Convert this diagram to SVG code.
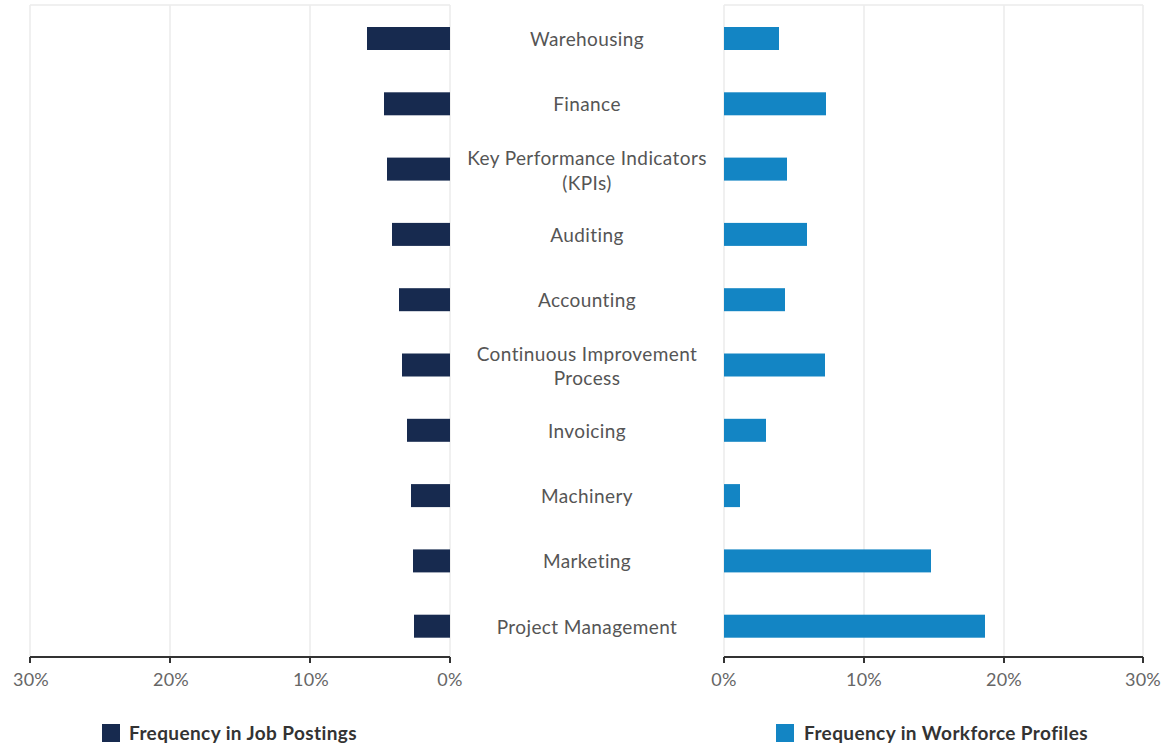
<svg xmlns="http://www.w3.org/2000/svg" width="1165" height="745" viewBox="0 0 1165 745">
<style>
.grid{stroke:#ebebeb;stroke-width:1.5;fill:none}
.axis{stroke:#333;stroke-width:2;fill:none}
.tick{font-family:Lato,"Liberation Sans",sans-serif;font-size:18px;fill:#666;letter-spacing:0.3px}
.lbl{font-family:Lato,"Liberation Sans",sans-serif;font-size:19px;fill:#555;text-anchor:middle;letter-spacing:0.4px}
.leg{font-family:Lato,"Liberation Sans",sans-serif;font-size:19px;font-weight:bold;fill:#333;letter-spacing:0.4px}
.jp{fill:#172a4f}
.wf{fill:#1385c4}
</style>
<rect width="1165" height="745" fill="#fff"/>
<g id="grid">
<path class="grid" d="M30 5H450M724 5H1143"/>
<path class="grid" d="M30 5V657M170 5V657M310 5V657M450 5V657M724 5V657M864 5V657M1004 5V657M1143 5V657"/>
</g>
<g id="axes">
<path class="axis" d="M30 657H450M30 657V663M170 657V663M310 657V663M450 657V663"/>
<path class="axis" d="M724 657H1143M724 657V663M864 657V663M1004 657V663M1143 657V663"/>
<g class="tick" text-anchor="middle">
<text x="31" y="686">30%</text>
<text x="171" y="686">20%</text>
<text x="311" y="686">10%</text>
<text x="450" y="686">0%</text>
<text x="724" y="686">0%</text>
<text x="864" y="686">10%</text>
<text x="1004" y="686">20%</text>
<text x="1143" y="686">30%</text>
</g>
</g>
<g id="job-postings">
<rect class="jp" x="367" y="27" width="83" height="23"/>
<rect class="jp" x="384" y="92.3" width="66" height="23"/>
<rect class="jp" x="387" y="157.6" width="63" height="23"/>
<rect class="jp" x="392" y="222.9" width="58" height="23"/>
<rect class="jp" x="399" y="288.2" width="51" height="23"/>
<rect class="jp" x="402" y="353.5" width="48" height="23"/>
<rect class="jp" x="407" y="418.8" width="43" height="23"/>
<rect class="jp" x="411" y="484.1" width="39" height="23"/>
<rect class="jp" x="413" y="549.4" width="37" height="23"/>
<rect class="jp" x="414" y="614.7" width="36" height="23"/>
</g>
<g id="workforce-profiles">
<rect class="wf" x="724" y="27" width="55" height="23"/>
<rect class="wf" x="724" y="92.3" width="102" height="23"/>
<rect class="wf" x="724" y="157.6" width="63" height="23"/>
<rect class="wf" x="724" y="222.9" width="83" height="23"/>
<rect class="wf" x="724" y="288.2" width="61" height="23"/>
<rect class="wf" x="724" y="353.5" width="101" height="23"/>
<rect class="wf" x="724" y="418.8" width="42" height="23"/>
<rect class="wf" x="724" y="484.1" width="16" height="23"/>
<rect class="wf" x="724" y="549.4" width="207" height="23"/>
<rect class="wf" x="724" y="614.7" width="261" height="23"/>
</g>
<g id="labels">
<text class="lbl" x="587" y="46">Warehousing</text>
<text class="lbl" x="587" y="111">Finance</text>
<text class="lbl" x="587" y="165">Key Performance Indicators</text>
<text class="lbl" x="587" y="190">(KPIs)</text>
<text class="lbl" x="587" y="241.5">Auditing</text>
<text class="lbl" x="587" y="306.5">Accounting</text>
<text class="lbl" x="587" y="361">Continuous Improvement</text>
<text class="lbl" x="587" y="385">Process</text>
<text class="lbl" x="587" y="437.5">Invoicing</text>
<text class="lbl" x="587" y="503">Machinery</text>
<text class="lbl" x="587" y="568">Marketing</text>
<text class="lbl" x="587" y="633.5">Project Management</text>
</g>
<g id="legend">
<rect class="jp" x="102" y="724" width="18" height="18"/>
<text class="leg" x="129" y="740">Frequency in Job Postings</text>
<rect class="wf" x="776" y="724" width="18" height="18"/>
<text class="leg" x="804" y="740">Frequency in Workforce Profiles</text>
</g>
</svg>
